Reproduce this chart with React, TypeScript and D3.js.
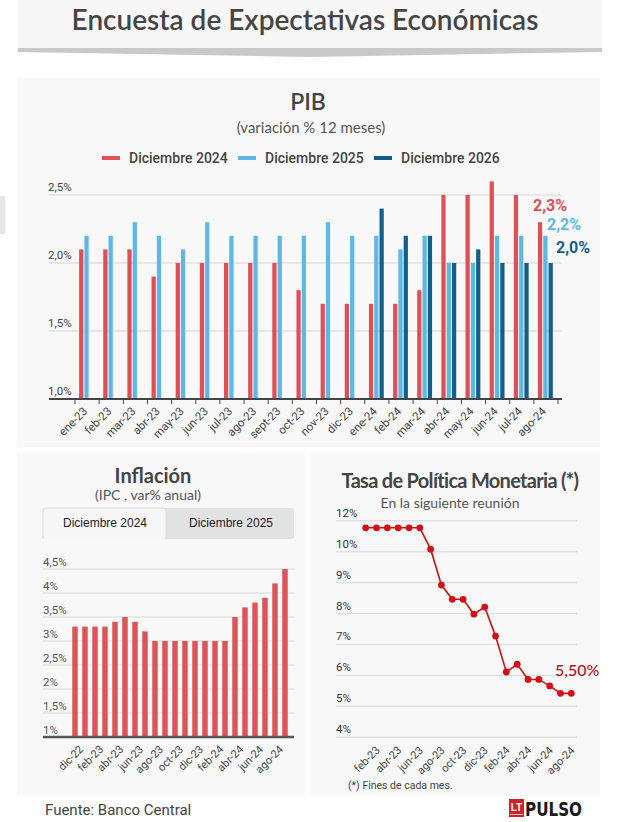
import React from "react";
import * as d3 from "d3";

// ---------- PIB ----------
const pibMonths = ["ene-23","feb-23","mar-23","abr-23","may-23","jun-23","jul-23","ago-23","sept-23","oct-23","nov-23","dic-23","ene-24","feb-24","mar-24","abr-24","may-24","jun-24","jul-24","ago-24"];
const pibDic2024 = [2.1,2.1,2.1,1.9,2.0,2.0,2.0,2.0,2.0,1.8,1.7,1.7,1.7,1.7,1.8,2.5,2.5,2.6,2.5,2.3];
const pibDic2025 = [2.2,2.2,2.3,2.2,2.1,2.3,2.2,2.2,2.2,2.2,2.3,2.2,2.2,2.1,2.2,2.0,2.0,2.2,2.2,2.2];
const pibDic2026: (number | null)[] = [null,null,null,null,null,null,null,null,null,null,null,null,2.4,2.2,2.2,2.0,2.1,2.0,2.0,2.0];
const pibSeriesNames = ["Diciembre 2024","Diciembre 2025","Diciembre 2026"];
const pibColors = ["#de5055","#5db8e6","#105f8c"];
const pibTicks = [1, 1.5, 2, 2.5];

// ---------- Inflación ----------
const inflMonths = ["nov-22","dic-22","ene-23","feb-23","mar-23","abr-23","may-23","jun-23","jul-23","ago-23","sep-23","oct-23","nov-23","dic-23","ene-24","feb-24","mar-24","abr-24","may-24","jun-24","jul-24","ago-24"];
const inflDic2024 = [3.3,3.3,3.3,3.3,3.4,3.5,3.4,3.2,3.0,3.0,3.0,3.0,3.0,3.0,3.0,3.0,3.5,3.7,3.8,3.9,4.2,4.5];
const inflTicks = [1,1.5,2,2.5,3,3.5,4,4.5];
const inflTabs = ["Diciembre 2024","Diciembre 2025"];

// ---------- TPM ----------
const tpmMonths = ["ene-23","feb-23","mar-23","abr-23","may-23","jun-23","jul-23","ago-23","sep-23","oct-23","nov-23","dic-23","ene-24","feb-24","mar-24","abr-24","may-24","jun-24","jul-24","ago-24"];
const tpmValues = [10.77,10.77,10.77,10.77,10.77,10.77,10.08,8.92,8.46,8.46,7.98,8.21,7.27,6.11,6.36,5.87,5.87,5.66,5.42,5.42];
const tpmTickValues = [4,5,6,7,8,9,10,11];
const tpmTickLabels = ["4%","5%","6%","7%","8%","9%","10%","12%"];
const tpmLastLabel = "5,50%";

const LATO = "Lato, 'Open Sans', sans-serif";
const ROBOTO = "Roboto, 'Noto Sans', sans-serif";
const ARIAL = "'Liberation Sans', Arial, sans-serif";

const comma1 = (v: number) => d3.format(".1f")(v).replace(".", ",") + "%";
const commaShort = (v: number) => String(v).replace(".", ",") + "%";

export default function App() {
  // PIB scales
  const xP = d3.scaleBand<string>().domain(pibMonths).range([75, 558]);
  const bw = xP.bandwidth();
  const xInner = d3.scaleBand<number>().domain([0, 1, 2]).range([bw * 0.17, bw * 0.785]).paddingInner(0.2);
  const yP = d3.scaleLinear().domain([1, 2.5]).range([399, 195]);
  const pibSeries = [pibDic2024, pibDic2025, pibDic2026];
  const pibBoundaries = d3.range(pibMonths.length + 1).map(i => 75 + i * xP.step());
  const endLabelOffsets = [-11, -6, -10];
  const endLabelX = [533, 547, 556];

  // Inflación scales
  const xI = d3.scaleBand<string>().domain(inflMonths).range([70, 290]).paddingInner(0.45).paddingOuter(0.225);
  const yI = d3.scaleLinear().domain([1, 4.5]).range([737, 569]);

  // TPM scales
  const xT = d3.scalePoint<string>().domain(tpmMonths).range([365.7, 571.3]);
  const yT = d3.scaleLinear().domain([4, 11]).range([737.3, 520.7]);
  const line = d3.line<number>().x((_, i) => xT(tpmMonths[i])!).y(d => yT(d));

  return (
    <svg width={620} height={822} style={{ position: "absolute", left: 0, top: 0, background: "#fff" }}>
      {/* Title block */}
      <rect x={18} y={0} width={584} height={48} fill="#f7f7f7" />
      <polygon points="18,48 602,48 602,52 310,57 18,52" fill="#c9c9c9" />
      <text x={305} y={30} textAnchor="middle" fontFamily={LATO} fontWeight={600} fontSize={28} fill="#454545">
        Encuesta de Expectativas Económicas
      </text>

      {/* left tab artifact */}
      <rect x={0} y={196} width={5} height={38} fill="#e6e6e6" />

      {/* PIB panel */}
      <rect x={17} y={78} width={583} height={369} fill="#f8f8f8" />
      <text x={308} y={110} textAnchor="middle" fontFamily={LATO} fontWeight={600} fontSize={23} fill="#454545">PIB</text>
      <text x={311} y={133} textAnchor="middle" fontFamily={LATO} fontSize={15} fill="#555">(variación % 12 meses)</text>
      {pibSeriesNames.map((n, i) => {
        const x0 = [102, 238, 374][i];
        return (
          <g key={n}>
            <line x1={x0} x2={x0 + 18} y1={158} y2={158} stroke={pibColors[i]} strokeWidth={4} />
            <text x={x0 + 27} y={163} fontFamily={ROBOTO} fontWeight={500} fontSize={14} fill="#444">{n}</text>
          </g>
        );
      })}
      {pibTicks.filter(t => t > 1).map(t => (
        <line key={t} x1={49} x2={562} y1={yP(t)} y2={yP(t)} stroke="#e2e2e2" strokeWidth={1.5} />
      ))}
      {pibTicks.map(t => (
        <text key={"l" + t} x={48} y={yP(t) - 4} fontFamily={ROBOTO} fontSize={11.5} fill="#444">{comma1(t)}</text>
      ))}
      {pibSeries.map((s, si) =>
        s.map((v, i) =>
          v == null ? null : (
            <rect
              key={si + "-" + i}
              x={xP(pibMonths[i])! + xInner(si)!}
              y={yP(v)}
              width={xInner.bandwidth()}
              height={yP(1) - yP(v)}
              fill={pibColors[si]}
            />
          )
        )
      )}
      <line x1={49} x2={562} y1={399} y2={399} stroke="#444" strokeWidth={2} />
      {pibBoundaries.map((b, i) => (
        <line key={"t" + i} x1={b} x2={b} y1={399} y2={404} stroke="#444" strokeWidth={1} />
      ))}
      {pibMonths.map(m => (
        <text key={m} transform={`translate(${xP(m)! + bw / 2 + 1},${412}) rotate(-45)`} textAnchor="end"
          fontFamily={ROBOTO} fontSize={11.5} fill="#444">{m}</text>
      ))}
      {pibSeries.map((s, si) => {
        const v = s[s.length - 1] as number;
        return (
          <text key={"e" + si} x={endLabelX[si]} y={yP(v) + endLabelOffsets[si]} fontFamily={ROBOTO} fontWeight={700}
            fontSize={16} fill={pibColors[si]}>{comma1(v)}</text>
        );
      })}

      {/* Inflación panel */}
      <rect x={17} y={453} width={288} height={342} fill="#f8f8f8" />
      <text x={153} y={483} textAnchor="middle" fontFamily={LATO} fontWeight={700} fontSize={20} fill="#454545">Inflación</text>
      <text x={148} y={500} textAnchor="middle" fontFamily={LATO} fontSize={14} fill="#555">(IPC , var% anual)</text>
      <rect x={43} y={508} width={251} height={31} fill="#e2e2e2" rx={3} />
      <path d="M43,539 L43,511 Q43,508 46,508 L163,508 Q166,508 166,511 L166,539" fill="#f7f7f7" stroke="#dadada" strokeWidth={1} />
      {inflTabs.map((t, i) => (
        <text key={t} x={[105, 231][i]} y={527} textAnchor="middle" fontFamily={ARIAL} fontSize={12} fill="#222">{t}</text>
      ))}
      {inflTicks.filter(t => t > 1).map(t => (
        <line key={t} x1={43} x2={294} y1={yI(t)} y2={yI(t)} stroke="#e4e4e4" strokeWidth={1.5} />
      ))}
      {inflTicks.map(t => (
        <text key={"l" + t} x={43} y={yI(t) - 3} fontFamily={ROBOTO} fontSize={11.5} fill="#555">{commaShort(t)}</text>
      ))}
      {inflDic2024.map((v, i) => (
        <rect key={i} x={xI(inflMonths[i])} y={yI(v)} width={xI.bandwidth()} height={yI(1) - yI(v)} fill="#dd5459" />
      ))}
      <line x1={43} x2={294} y1={737} y2={737} stroke="#555" strokeWidth={2.5} />
      {inflMonths.map((m, i) =>
        i % 2 === 1 ? (
          <text key={m} transform={`translate(${xI(m)! + xI.bandwidth() / 2 - 1},${750}) rotate(-45)`} textAnchor="end"
            fontFamily={ROBOTO} fontSize={11} fill="#444">{m}</text>
        ) : null
      )}

      {/* TPM panel */}
      <rect x={310} y={453} width={290} height={342} fill="#f8f8f8" />
      <text x={460} y={488} textAnchor="middle" fontFamily={LATO} fontWeight={700} fontSize={20} letterSpacing={-0.7} fill="#454545">
        Tasa de Política Monetaria (*)
      </text>
      <text x={450} y={508} textAnchor="middle" fontFamily={LATO} fontSize={14} fill="#555">En la siguiente reunión</text>
      {tpmTickValues.map(t => (
        <line key={t} x1={336} x2={577} y1={yT(t)} y2={yT(t)} stroke="#e0e0e0" strokeWidth={1.5} />
      ))}
      {tpmTickValues.map((t, i) => (
        <text key={"l" + t} x={336} y={yT(t) - 4} fontFamily={ROBOTO} fontSize={11.5} fill="#333">{tpmTickLabels[i]}</text>
      ))}
      <path d={line(tpmValues) || ""} fill="none" stroke="#cc1111" strokeWidth={1.6} />
      {tpmValues.map((v, i) => (
        <circle key={i} cx={xT(tpmMonths[i])} cy={yT(v)} r={3.4} fill="#d30f17" />
      ))}
      <text x={555} y={676} fontFamily={LATO} fontWeight={500} fontSize={16} fill="#b3141c">{tpmLastLabel}</text>
      {tpmMonths.map((m, i) =>
        i % 2 === 1 ? (
          <text key={m} transform={`translate(${xT(m)! + 4},${751}) rotate(-45)`} textAnchor="end"
            fontFamily={ROBOTO} fontSize={11} fill="#444">{m}</text>
        ) : null
      )}
      <text x={348} y={789} fontFamily={ROBOTO} fontSize={10.5} fill="#444">(*) Fines de cada mes.</text>

      {/* Footer */}
      <text x={45} y={815} fontFamily={ROBOTO} fontSize={15} fill="#444">Fuente: Banco Central</text>
      <rect x={509} y={799} width={15} height={18} fill="#d0212a" />
      <text x={516.5} y={811} textAnchor="middle" fontFamily={ARIAL} fontWeight={700} fontSize={10} fill="#fff">LT</text>
      <line x1={510} x2={523} y1={814.5} y2={814.5} stroke="#f3c4c6" strokeWidth={1} />
      <text x={525} y={816} fontFamily="'DejaVu Sans Condensed', 'Liberation Sans Narrow', sans-serif" fontWeight={700}
        fontSize={20} textLength={57} lengthAdjust="spacingAndGlyphs" fill="#1a1a1a">PULSO</text>
    </svg>
  );
}
